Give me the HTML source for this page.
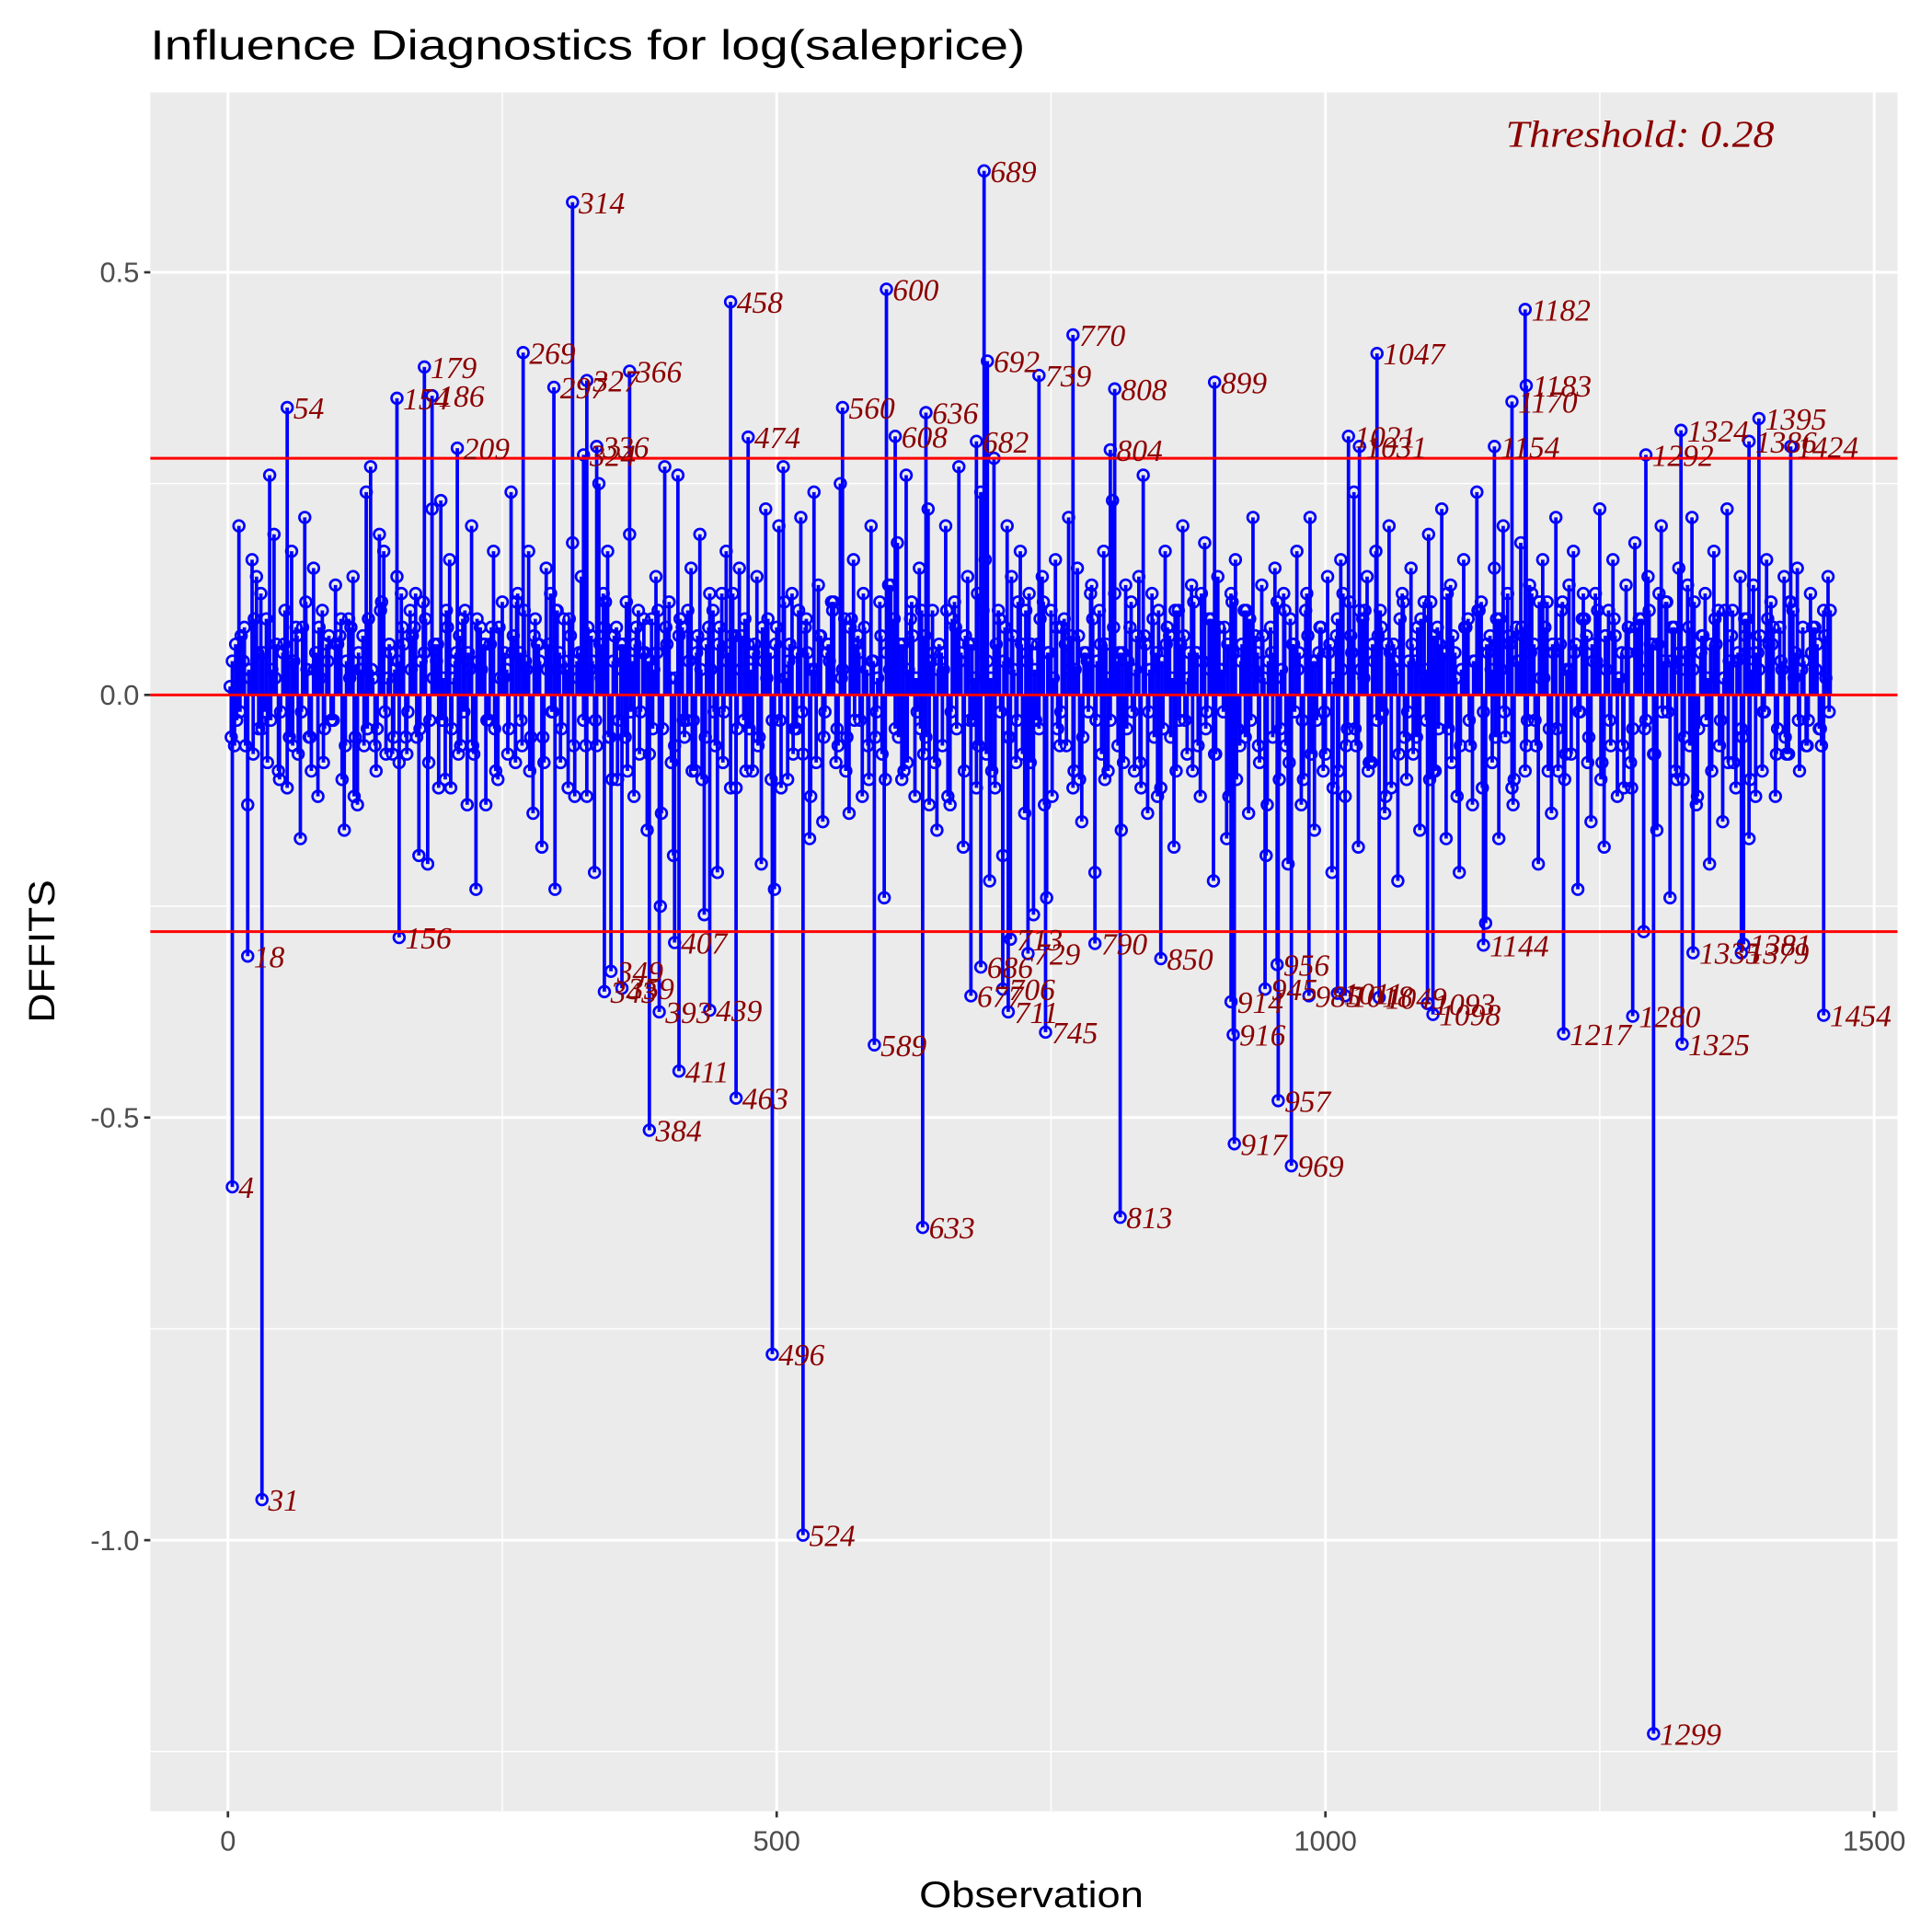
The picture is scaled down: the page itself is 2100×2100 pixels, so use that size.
<!DOCTYPE html>
<html>
<head>
<meta charset="utf-8">
<style>
html,body{margin:0;padding:0;background:#fff;}
svg{display:block;}
</style>
</head>
<body>
<svg id="chart" xmlns="http://www.w3.org/2000/svg" width="2100" height="2100" viewBox="0 0 1568 1568">
  <rect x="0" y="0" width="1568" height="1568" fill="#fff"/>
  <text x="122" y="48" font-family="Liberation Sans, sans-serif" font-size="34" textLength="710" lengthAdjust="spacingAndGlyphs" fill="#000">Influence Diagnostics for log(saleprice)</text>
  <rect x="122" y="75" width="1418" height="1395" fill="#ebebeb"/>
  <g id="grid"></g>
  <g id="stems"></g>
  <g id="refs"></g>
  <g id="labels"></g>
  <g id="axes"></g>
  <text x="1440" y="119" text-anchor="end" font-family="Liberation Serif, serif" font-style="italic" font-size="31" textLength="218" lengthAdjust="spacingAndGlyphs" fill="#8b0000">Threshold: 0.28</text>
  <text x="837" y="1548" text-anchor="middle" font-family="Liberation Sans, sans-serif" font-size="30" textLength="182" lengthAdjust="spacingAndGlyphs" fill="#000">Observation</text>
  <text x="0" y="0" transform="translate(44,772) rotate(-90)" text-anchor="middle" font-family="Liberation Sans, sans-serif" font-size="30" textLength="116" lengthAdjust="spacingAndGlyphs" fill="#000">DFFITS</text>
</svg>
<script>
const threshold = 0.28;
const xTicks = [0, 500, 1000, 1500];
const xTickLabels = ["0", "500", "1000", "1500"];
const xMinor = [250, 750, 1250];
const yTicks = [0.5, 0, -0.5, -1.0];
const yTickLabels = ["0.5", "0.0", "-0.5", "-1.0"];
const yMinor = [0.25, -0.25, -0.75, -1.25];

const labeledObs = [4,31,18,54,154,156,179,186,209,269,297,314,327,336,324,366,349,343,359,384,393,407,411,439,458,463,474,496,524,560,589,600,608,633,636,682,686,677,689,692,706,711,713,729,739,745,770,790,804,808,813,850,899,914,916,917,945,956,957,969,985,1011,1018,1021,1031,1047,1049,1093,1098,1144,1154,1170,1182,1183,1217,1280,1292,1299,1324,1325,1335,1379,1381,1386,1395,1424,1454];
const labeledVals = [-0.582,-0.952,-0.309,0.340,0.351,-0.287,0.388,0.354,0.292,0.405,0.364,0.583,0.372,0.294,0.284,0.383,-0.327,-0.351,-0.347,-0.515,-0.375,-0.293,-0.445,-0.373,0.465,-0.477,0.305,-0.780,-0.994,0.340,-0.414,0.480,0.306,-0.630,0.334,0.300,-0.322,-0.356,0.620,0.395,-0.348,-0.375,-0.289,-0.306,0.378,-0.399,0.426,-0.294,0.290,0.362,-0.618,-0.312,0.370,-0.363,-0.402,-0.531,-0.348,-0.319,-0.480,-0.557,-0.356,-0.353,-0.356,0.306,0.294,0.404,-0.358,-0.365,-0.378,-0.296,0.294,0.347,0.456,0.366,-0.401,-0.380,0.284,-1.229,0.313,-0.413,-0.305,-0.305,-0.295,0.300,0.327,0.294,-0.379];

// estimated bulk values, observation = 2 + 4*i
const bulkVals = [
 0.01,-0.06,0.20,0.04,-0.13,0.16,0.14,0.12,-0.02,0.26,0.19,-0.09,0.05,-0.11,0.17,0.08,-0.17,0.21,-0.05,0.15,
 -0.12,0.10,0.06,-0.03,0.13,0.07,-0.16,0.09,0.14,-0.13,0.03,0.24,0.27,-0.06,0.19,0.17,0.02,-0.07,0.14,0.12,
 -0.05,0.10,0.08,-0.19,0.11,-0.20,0.22,0.04,0.23,-0.10,0.16,0.02,-0.07,0.09,-0.13,0.20,-0.23,0.08,0.06,-0.03,
 0.17,-0.10,0.11,0.03,0.24,-0.08,0.05,0.10,0.17,-0.14,0.06,-0.18,0.15,0.12,-0.23,0.05,0.09,-0.11,0.18,0.04,
 0.14,-0.06,0.03,-0.21,0.25,0.12,0.17,-0.10,0.08,0.06,-0.05,0.19,-0.12,0.10,0.05,-0.16,0.09,0.14,-0.25,0.27,
 0.11,-0.19,0.26,0.08,-0.03,0.15,-0.09,0.19,-0.26,0.08,0.10,-0.21,0.12,0.17,-0.11,0.07,0.15,-0.03,0.06,-0.09,
 0.14,-0.20,0.22,0.05,-0.23,0.20,0.27,-0.10,0.12,-0.04,0.21,0.08,-0.17,0.24,0.13,-0.15,0.05,0.11,-0.08,0.25,
 0.09,-0.14,0.16,0.07,-0.12,0.03,0.20,-0.05,0.11,-0.24,0.13,0.06,0.18,-0.10,0.26,0.09,-0.12,0.15,-0.07,0.22,
 0.10,-0.16,0.05,0.20,-0.13,0.11,0.27,-0.18,0.14,0.06,-0.11,0.24,0.16,-0.22,0.28,0.10,-0.19,0.20,0.14,-0.08,
 0.17,-0.14,0.12,-0.26,0.06,0.14,-0.24,0.10,0.16,-0.06,0.09,0.21,-0.11,0.15,-0.15,0.05,0.12,-0.21,0.10,0.17,
 -0.09,0.23,0.04,-0.16,0.13,0.08,-0.09,0.14,0.26,-0.14,0.12,0.05,-0.11,0.17,0.07,-0.18,0.10,0.20,-0.07,0.13,
 0.05,-0.12,0.18,0.09,-0.22,0.14,0.03,-0.17,0.12,0.16,-0.06,0.10,-0.14,0.21,0.05,0.13,-0.19,0.08,0.15,-0.10,
 0.12,-0.20,0.06,0.17,-0.13,0.10,0.21,-0.16,0.05,-0.09,0.14,-0.21,0.07,0.16,-0.12,0.11,0.24,-0.18,0.09,0.14,
 -0.08,0.17,0.10,-0.14,0.20,0.06,-0.22,0.12,-0.10,0.15,0.04,-0.16,0.11,0.19,-0.09,0.08,0.22,-0.17,0.13,0.05,
 -0.21,0.16,0.09,-0.13,0.24,0.11,-0.27,0.07,0.15,-0.17,0.20,0.12,-0.11,0.08,0.18,-0.09,0.13,0.06,-0.20,0.16,
 0.11,-0.14,0.21,0.06,-0.10,0.13,0.17,-0.23,0.09,0.07,-0.15,0.12,0.22,-0.18,0.10,0.16,-0.12,0.05,0.13,-0.08,
 0.18,0.09,-0.28,0.14,0.06,-0.16,0.20,0.11,-0.24,0.08,0.15,-0.10,0.13,0.21,-0.13,0.05,0.12,-0.20,0.17,0.10,
 -0.15,0.22,0.07,-0.11,0.14,0.09,-0.17,0.13,0.05,-0.09,0.16,0.11,-0.12,0.08,0.14,-0.07,0.10,0.15,0.03,-0.06,
 0.12,0.08,-0.04,0.10,0.14
];

// estimated small-magnitude values in hundredths, observation = 4 + 4*i
const bulk2Centi = [
 4,-3,7,-6,2,9,-4,5,-8,3,6,-2,10,-5,4,-7,8,3,-9,5,2,-4,7,-3,6,-10,4,8,-5,3,-6,9,2,-4,11,-7,5,3,-8,6,
 -2,7,-5,4,9,-3,6,-11,2,8,-4,5,-6,10,3,-7,4,6,-3,8,-9,2,5,-4,7,12,-6,3,-5,9,4,-8,6,-2,10,-4,3,7,-12,5,
 -3,8,4,-6,2,11,-5,7,-3,6,-9,4,8,-2,5,-7,3,10,-4,6,-8,2,9,-5,4,-3,7,-10,6,3,-6,8,-2,5,12,-4,7,-9,3,6,
 -5,4,9,-3,8,-11,2,6,-4,10,-7,5,3,-8,7,-2,4,11,-6,3,-5,9,6,-3,8,-10,4,2,-7,5,13,-4,6,-9,3,7,-2,10,-5,4,
 -8,6,3,-12,9,-4,5,7,-3,2,-6,10,4,-9,6,-2,8,-5,3,11,-7,4,6,-3,9,-13,5,2,-4,8,-6,7,3,-10,5,-2,9,4,-7,6,
 -3,12,5,-8,4,-2,7,-11,6,3,-5,10,-4,8,2,-9,6,-3,5,11,-6,4,-2,9,-7,3,8,-12,5,-4,6,10,-3,7,-8,2,4,-5,11,3,
 -6,9,-2,5,-10,7,4,-3,8,-7,6,2,-9,12,-4,5,-6,3,10,-8,4,7,-2,6,-11,3,9,-5,4,-7,8,2,-3,11,-9,6,5,-4,7,-12,
 3,8,-6,4,10,-2,5,-8,9,3,-5,6,-10,4,7,-3,12,-6,2,8,-4,5,-9,11,3,-7,6,-2,9,-5,4,10,-8,3,-6,7,2,-11,8,-4,
 5,9,-3,6,-7,12,4,-2,8,-10,3,5,-6,11,-4,7,2,-9,6,-3,10,4,-8,5,-5,9,3,-12,7,-2,6,8,-4,3,-7,11,5,-9,4,-3,
 8,6,-6,2,10
];

// estimated small-magnitude values in hundredths, observation = 3 + 4*i
const bulk3Centi = [
 -5,6,-2,8,3,-7,5,-4,9,-3,2,-10,6,4,-6,7,-2,11,-5,3,8,-8,4,-3,6,9,-6,2,-12,5,7,-4,3,-9,10,-2,6,-5,4,8,
 -7,3,12,-4,5,-8,2,6,-3,10,-11,4,7,-2,5,-6,9,3,-13,6,-4,8,2,-7,5,11,-3,4,-9,7,6,-5,3,-2,10,-8,4,9,-6,2,
 5,-12,7,-3,6,8,-5,4,-10,3,11,-2,6,-7,9,4,-4,5,-14,8,2,-6,7,-3,10,-9,5,3,-5,12,-2,6,-8,4,7,-11,3,9,-4,5,
 -6,8,2,-10,6,-3,11,4,-7,5,-2,9,-12,3,7,-5,6,10,-4,2,-9,8,-3,5,12,-6,4,-2,7,-10,3,9,-5,6,-8,11,2,-4,7,-13,
 5,3,-6,10,-2,8,4,-9,6,-3,12,5,-7,2,-11,9,4,-5,7,-3,6,10,-8,3,-4,11,5,-12,8,-2,6,3,-9,7,-5,4,13,-3,6,-10,
 2,8,-6,5,-4,11,3,-8,7,-2,9,-12,4,6,-5,10,-3,7,2,-9,5,12,-4,3,-7,8,-2,6,11,-10,4,-5,9,3,-6,7,-13,5,2,-4,
 10,-8,6,3,-3,12,-7,4,8,-2,5,-11,9,3,-6,7,-4,10,2,-9,6,-3,8,-12,5,4,-7,11,-2,6,-5,9,3,-10,7,-4,5,12,-8,2,
 -6,8,-3,4,10,-11,6,3,-5,9,-2,7,-13,4,8,-6,5,-3,11,2,-9,6,-4,10,-7,3,5,-2,12,-8,6,4,-10,7,-3,9,2,-6,5,-11,
 8,3,-4,10,-7,6,-2,11,4,-9,5,-5,8,3,-12,7,-3,6,9,-6,2,-8,10,4,-4,7,-10,5,3,-2,9,6,-7,4,-5,11,2,-3,8,-6,
 5,3,-4,7,-2
];

const NS = "http://www.w3.org/2000/svg";
const PX0 = 185, PXU = 0.8907, PY0 = 564, PYU = 686;
const PL = 122, PR = 1540, PT = 75, PB = 1470;
function xs(v){ return PX0 + v * PXU; }
function ys(v){ return PY0 - v * PYU; }
function mk(tag, attrs, parent){
  const e = document.createElementNS(NS, tag);
  for (const k in attrs) e.setAttribute(k, attrs[k]);
  parent.appendChild(e);
  return e;
}
const grid = document.getElementById('grid');
xMinor.forEach(v => {
  const l = mk('line', {x1:xs(v), x2:xs(v), y1:PT, y2:PB, stroke:'#fff', 'stroke-width':1.1}, grid);
  
  
});
yMinor.forEach(v => {
  const l = mk('line', {x1:PL, x2:PR, y1:ys(v), y2:ys(v), stroke:'#fff', 'stroke-width':1.1}, grid);
  
  
});
xTicks.forEach(v => {
  const l = mk('line', {x1:xs(v), x2:xs(v), y1:PT, y2:PB, stroke:'#fff', 'stroke-width':2.2}, grid);
  
  
});
yTicks.forEach(v => {
  const l = mk('line', {x1:PL, x2:PR, y1:ys(v), y2:ys(v), stroke:'#fff', 'stroke-width':2.2}, grid);
  
  
});

const stems = document.getElementById('stems');
const pts = [];
bulk2Centi.forEach((v, i) => pts.push([4 + 4 * i, v / 100]));
bulk3Centi.forEach((v, i) => pts.push([3 + 4 * i, v / 100]));
bulkVals.forEach((v, i) => pts.push([2 + 4 * i, v]));
labeledObs.forEach((o, i) => pts.push([o, labeledVals[i]]));
pts.forEach(p => {
  const l = mk('line', {x1:xs(p[0]), x2:xs(p[0]), y1:ys(0), y2:ys(p[1]), stroke:'#0000ff', 'stroke-width':2.8}, stems);
  
  
});
pts.forEach(p => {
  const c = mk('circle', {cx:xs(p[0]), cy:ys(p[1]), r:4.4, fill:'none', stroke:'#0000ff', 'stroke-width':2}, stems);
  
  
});

const refs = document.getElementById('refs');
[threshold, 0, -threshold].forEach(v => {
  const l = mk('line', {x1:PL, x2:PR, y1:ys(v), y2:ys(v), stroke:'#ff0000', 'stroke-width':2.2}, refs);
  
  
});

const labels = document.getElementById('labels');
labeledObs.forEach((o, i) => {
  const t = mk('text', {x:xs(o) + 5, y:ys(labeledVals[i]) + 9, 'font-family':'Liberation Serif, serif', 'font-style':'italic', 'font-size':25, fill:'#8b0000'}, labels);
  t.textContent = String(o);
  
  
});

const axes = document.getElementById('axes');
xTicks.forEach((v, i) => {
  const l = mk('line', {x1:xs(v), x2:xs(v), y1:PB, y2:PB + 5, stroke:'#333', 'stroke-width':2}, axes);
  
  
  const t = mk('text', {x:xs(v), y:PB + 32, 'text-anchor':'middle', 'font-family':'Liberation Sans, sans-serif', 'font-size':23, fill:'#4d4d4d'}, axes);
  t.textContent = xTickLabels[i];
  
  
});
yTicks.forEach((v, i) => {
  const l = mk('line', {x1:PL - 5, x2:PL, y1:ys(v), y2:ys(v), stroke:'#333', 'stroke-width':2}, axes);
  
  
  const t = mk('text', {x:PL - 9, y:ys(v) + 8, 'text-anchor':'end', 'font-family':'Liberation Sans, sans-serif', 'font-size':23, fill:'#4d4d4d'}, axes);
  t.textContent = yTickLabels[i];
  
  
});
</script>
</body>
</html>
